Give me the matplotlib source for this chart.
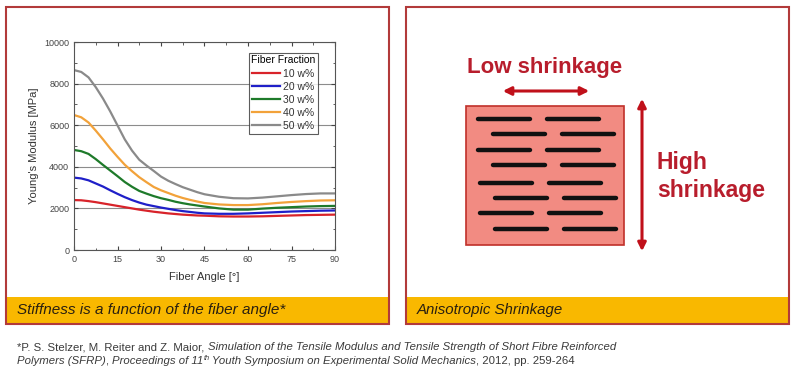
import numpy as np
import matplotlib
matplotlib.use("Agg")
import matplotlib.pyplot as plt
from matplotlib.patches import Rectangle, FancyArrowPatch
from matplotlib.ticker import MultipleLocator

plt.rcParams['font.family'] = ['Liberation Sans', 'DejaVu Sans']

# fiber angle in degrees and Young's modulus in MPa
angles = [0, 2.5, 5, 7.5, 10, 12.5, 15, 17.5, 20, 22.5, 25, 27.5, 30, 32.5, 35, 37.5, 40, 42.5, 45,
          50, 55, 60, 65, 70, 75, 80, 85, 90]
w10 = [2400, 2390, 2350, 2300, 2240, 2180, 2120, 2060, 2000, 1940, 1890, 1840, 1800, 1760, 1730, 1700, 1680, 1660, 1650,
       1620, 1610, 1610, 1620, 1640, 1660, 1680, 1690, 1700]
w20 = [3480, 3440, 3350, 3200, 3050, 2870, 2700, 2540, 2400, 2280, 2180, 2110, 2040, 1980, 1920, 1870, 1830, 1790, 1760,
       1740, 1740, 1760, 1790, 1820, 1850, 1870, 1890, 1900]
w30 = [4810, 4750, 4620, 4370, 4090, 3820, 3550, 3270, 3040, 2840, 2710, 2590, 2490, 2410, 2320, 2250, 2190, 2140, 2090,
       2000, 1940, 1940, 1990, 2030, 2060, 2090, 2110, 2120]
w40 = [6490, 6380, 6130, 5740, 5320, 4880, 4480, 4100, 3790, 3500, 3260, 3030, 2870, 2740, 2610, 2500, 2410, 2330, 2260,
       2190, 2160, 2160, 2200, 2260, 2310, 2350, 2380, 2390]
w50 = [8650, 8560, 8300, 7830, 7280, 6660, 5990, 5320, 4780, 4340, 4060, 3800, 3530, 3330, 3170, 3020, 2900, 2780, 2680,
       2560, 2490, 2480, 2520, 2580, 2640, 2690, 2720, 2720]
series = [w10, w20, w30, w40, w50]
labels = ['10 w%', '20 w%', '30 w%', '40 w%', '50 w%']
colors = ['#d8232a', '#1f1fc8', '#1e7a2a', '#f2a23a', '#8a8a8a']

W, H = 800, 373
fig = plt.figure(figsize=(8, 3.73), dpi=100)
fig.patch.set_facecolor('white')

# background layer in pixel coordinates
bg = fig.add_axes([0, 0, 1, 1], zorder=0)
bg.set_xlim(0, W)
bg.set_ylim(H, 0)
bg.axis('off')

border = '#b23a3a'
gold = '#f9b800'
for x0, x1 in [(6, 389), (406, 789)]:
    bg.add_patch(Rectangle((x0, 297), x1 - x0, 27, facecolor=gold, edgecolor='none'))
    bg.add_patch(Rectangle((x0, 7), x1 - x0, 317, facecolor='none', edgecolor=border, lw=1.5))

bg.text(17, 310, 'Stiffness is a function of the fiber angle*', fontsize=11,
        style='italic', va='center', color='#2a2010')
bg.text(417, 310, 'Anisotropic Shrinkage', fontsize=10.8, style='italic',
        va='center', color='#2a2010')

# right panel sketch
dark = '#b81d2c'
bg.add_patch(Rectangle((466, 106), 158, 139, facecolor='#f28b82', edgecolor='#c0302a', lw=1.2))
row_y = [119, 134, 150, 165, 183, 198, 213, 229]
for i, yy in enumerate(row_y):
    off = 15 if i % 2 else 0
    shift = 2 if i >= 4 else 0
    for xs in (478, 547):
        bg.plot([xs + off + shift, xs + off + shift + 52], [yy, yy], color='#111111',
                lw=3.2, solid_capstyle='round')

bg.add_patch(FancyArrowPatch((500, 91), (592, 91), arrowstyle='<|-|>', mutation_scale=12,
                             color='#c0101a', lw=2.2))
bg.add_patch(FancyArrowPatch((642, 96), (642, 254), arrowstyle='<|-|>', mutation_scale=12,
                             color='#c0101a', lw=2.2))
bg.text(545, 68, 'Low shrinkage', fontsize=16, fontweight='bold', color=dark,
        ha='center', va='center')
bg.text(657, 162, 'High', fontsize=16.5, fontweight='bold', color=dark, va='center')
bg.text(657, 190, 'shrinkage', fontsize=16.5, fontweight='bold', color=dark, va='center')

# footnote with mixed italic pieces
renderer = fig.canvas.get_renderer()
fs = 8.2
lines = [
    [('*P. S. Stelzer, M. Reiter and Z. Maior, ', 'normal', 0),
     ('Simulation of the Tensile Modulus and Tensile Strength of Short Fibre Reinforced', 'italic', 0)],
    [('Polymers (SFRP)', 'italic', 0), (', ', 'normal', 0), ('Proceedings of 11', 'italic', 0),
     ('th', 'italic', 1), (' Youth Symposium on Experimental Solid Mechanics', 'italic', 0),
     (', 2012, pp. 259-264', 'normal', 0)],
]
for yy, pieces in zip([347, 361], lines):
    x = 17
    for txt, st, sup in pieces:
        t = bg.text(x, yy - (3 if sup else 0), txt, fontsize=fs * (0.65 if sup else 1),
                    style=st, va='center', color='#3a3a3a')
        bb = t.get_window_extent(renderer=renderer)
        x += bb.width

# stiffness chart
ax = fig.add_axes([74 / W, 1 - 250 / H, 261 / W, 208 / H], zorder=1)
for vals, lab, c in zip(series, labels, colors):
    ax.plot(angles, vals, color=c, lw=1.6, label=lab)
ax.set_xlim(0, 90)
ax.set_ylim(0, 10000)
ax.set_xticks([0, 15, 30, 45, 60, 75, 90])
ax.set_yticks([0, 2000, 4000, 6000, 8000, 10000])
ax.xaxis.set_minor_locator(MultipleLocator(7.5))
ax.yaxis.set_minor_locator(MultipleLocator(1000))
ax.tick_params(which='both', direction='in', top=True, right=True, labelsize=6.5,
               labelcolor='#444444', color='#444444')
ax.tick_params(which='major', length=3)
ax.tick_params(which='minor', length=1.8)
ax.grid(axis='y', color='#8c8c8c', lw=0.8)
ax.set_axisbelow(True)
for s in ax.spines.values():
    s.set_color('#555555')
    s.set_linewidth(0.8)
ax.set_xlabel('Fiber Angle [°]', fontsize=8, color='#333333', labelpad=6)
ax.set_ylabel("Young's Modulus [MPa]", fontsize=8, color='#333333', labelpad=4)
leg = ax.legend(title='Fiber Fraction', loc='upper right', bbox_to_anchor=(0.935, 0.948),
                fontsize=7.5, title_fontsize=7.5, frameon=True, fancybox=False,
                handlelength=2.7, handletextpad=0.3, labelspacing=0.3,
                borderpad=0.25, borderaxespad=0)
leg.get_frame().set_edgecolor('#333333')
leg.get_frame().set_linewidth(0.8)
for t in leg.get_texts():
    t.set_color('#333333')

fig.savefig('out.png', dpi=100)
